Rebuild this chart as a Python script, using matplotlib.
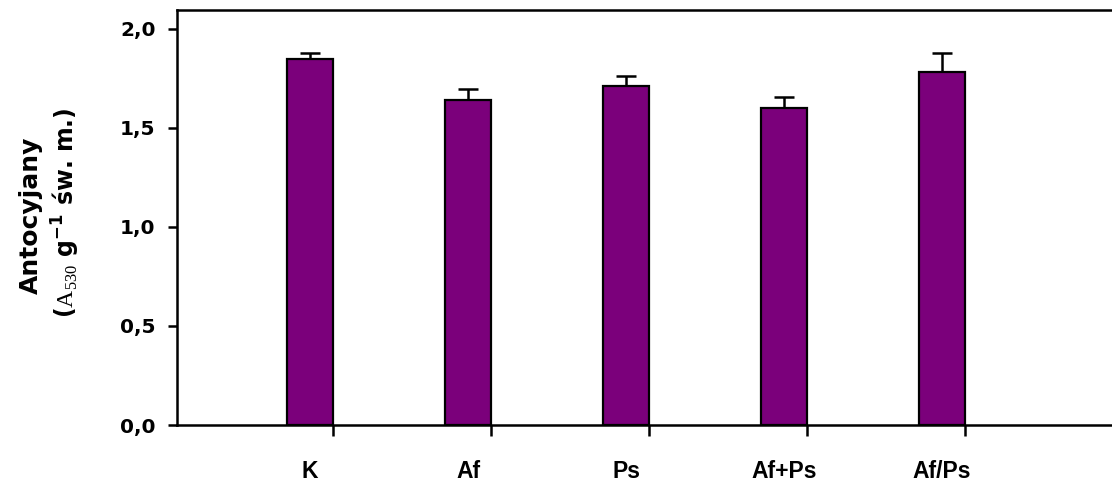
import matplotlib
matplotlib.use("Agg")
import matplotlib.pyplot as plt
import numpy as np

groups = ["K", "Af", "Ps", "Af+Ps", "Af/Ps"]
means = [1.85, 1.64, 1.71, 1.60, 1.78]
errs = [0.03, 0.055, 0.052, 0.056, 0.10]
y_ticks = [0.0, 0.5, 1.0, 1.5, 2.0]

plt.rcParams["mathtext.fontset"] = "custom"
plt.rcParams["mathtext.rm"] = "Liberation Serif"
plt.rcParams["mathtext.sf"] = "DejaVu Sans:bold"

W, H = 1112, 483
fig = plt.figure(figsize=(W / 100, H / 100), dpi=100)

# axes box in pixels; right side runs off the picture like the original
left, right, bottom, top = 177, 1130, 425, 9.5
ax = fig.add_axes([left / W, (H - bottom) / H, (right - left) / W, (bottom - top) / H])

x = np.arange(len(groups))
bw = 0.29
ax.bar(x, means, width=bw, color="#7b007b", edgecolor="black", linewidth=1.6, zorder=3)
ax.errorbar(x, means, yerr=[np.zeros(len(means)), errs], fmt="none", ecolor="black",
            elinewidth=1.8, capsize=7.5, capthick=1.8, zorder=2)

px_per_unit = 158
x0 = -(310 - left) / px_per_unit
ax.set_xlim(x0, x0 + (right - left) / px_per_unit)
ax.set_ylim(0, 2.098)

for s in ax.spines.values():
    s.set_linewidth(1.8)

ax.set_yticks(y_ticks)
ax.set_yticklabels([f"{v:.1f}".replace(".", ",") for v in y_ticks],
                   fontfamily="DejaVu Sans", fontweight="bold", fontsize=14.5)
ax.tick_params(axis="y", direction="out", length=6.5, width=1.8, pad=9)

ax.set_xticks(x)
ax.set_xticklabels(groups, fontfamily="Liberation Sans", fontweight="bold", fontsize=16.5)
ax.tick_params(axis="x", which="major", length=0, pad=25)
ax.set_xticks(x + bw / 2, minor=True)
ax.tick_params(axis="x", which="minor", direction="out", length=8, width=1.8)

fig.text(31 / W, 1 - 215 / H, "Antocyjany", rotation=90, ha="center", va="center",
         fontfamily="DejaVu Sans", fontweight="bold", fontsize=18)
fig.text(66 / W, 1 - 213 / H,
         r"($\mathrm{A}_{\mathrm{530}}$ g$^{\mathsf{-1}}$ św. m.)",
         rotation=90, ha="center", va="center",
         fontfamily="DejaVu Sans", fontweight="bold", fontsize=17)

fig.savefig("out.png", dpi=100)
